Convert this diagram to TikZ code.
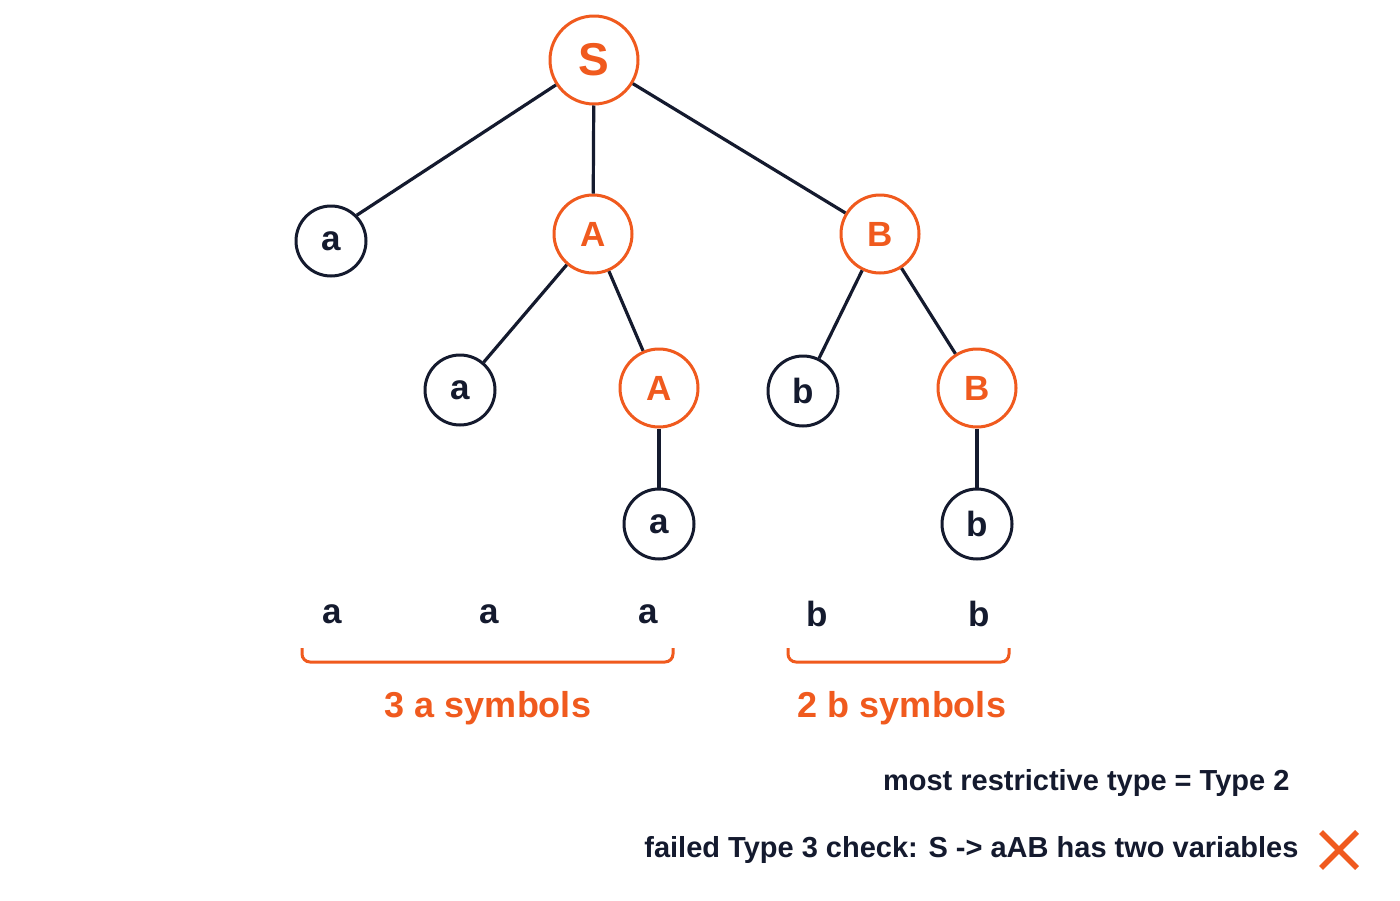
\documentclass[tikz,border=0pt]{standalone}
\usepackage{fontspec}
\setmainfont{Liberation Sans}
\usetikzlibrary{calc}
\begin{document}
\definecolor{org}{HTML}{F05A1E}
\definecolor{nav}{HTML}{141A2E}
\begin{tikzpicture}[x=1pt,y=-1pt,
 base/.style={circle,line width=3pt,fill=white,inner sep=0pt,font=\bfseries\fontsize{35}{35}\selectfont},
 var/.style={base,draw=org,text=org,minimum size=78pt},
 term/.style={base,draw=nav,text=nav,minimum size=70pt},
 edge/.style={line width=3.2pt,nav},
 lt/.style={font=\bfseries\fontsize{35}{35}\selectfont,text=nav},
 br/.style={line width=3pt,org,rounded corners=8pt},
 lab/.style={font=\bfseries\fontsize{36}{36}\selectfont,text=org},
 note/.style={font=\bfseries\fontsize{29}{29}\selectfont,text=nav,anchor=east}]
\useasboundingbox[fill=white] (0,0) rectangle (1400,900);
\node[var,minimum size=88pt,font=\bfseries\fontsize{46}{46}\selectfont] (S) at (594,60) {S};
\node[term] (a1) at (331,241) {a};
\node[var] (A1) at (593,234) {A};
\node[var] (B1) at (880,234) {B};
\node[term] (a2) at (460,390) {a};
\node[var] (A2) at (659,388) {A};
\node[term] (b1) at (803,391) {b};
\node[var] (B2) at (977,388) {B};
\node[term] (a3) at (659,524) {a};
\node[term] (b2) at (977,524) {b};
\draw[edge] (S) -- (a1.north east); \draw[edge] (S) -- (A1); \draw[edge] (S) -- (B1);
\draw[edge] (A1) -- (a2); \draw[edge] (A1) -- (A2); \draw[edge] (A2) -- (a3);
\draw[edge] (B1) -- (b1); \draw[edge] (B1) -- (B2); \draw[edge] (B2) -- (b2);
\node[lt] (t1) at (332,614) {a};
\node[lt] (t2) at (489,614) {a};
\node[lt] (t3) at (648,614) {a};
\node[lt] (t4) at (817,614) {b};
\node[lt] (t5) at (979,614) {b};
\coordinate (l1) at (302,648); \coordinate (l2) at (673,648);
\coordinate (r1) at (788,648); \coordinate (r2) at (1009,648);
\draw[br] (l1) -- ++(0,14) -| (l2);
\draw[br] (r1) -- ++(0,14) -| (r2);
\node[lab] (L1) at (488,708) {3 a symbols};
\node[lab] (L2) at (902,708) {2 b symbols};
\node[note] (n1) at (1293,783) {most restrictive type = Type 2};
\node[note] (n2) at (1302,850) {failed Type 3 check: S -> aAB has two variables};
\coordinate (xc) at (1339,850);
\draw[org,line width=5.5pt] ($(xc)+(-18,-18)$) -- ($(xc)+(18,18)$);
\draw[org,line width=5.5pt] ($(xc)+(-18,18)$) -- ($(xc)+(18,-18)$);
\end{tikzpicture}
\end{document}
